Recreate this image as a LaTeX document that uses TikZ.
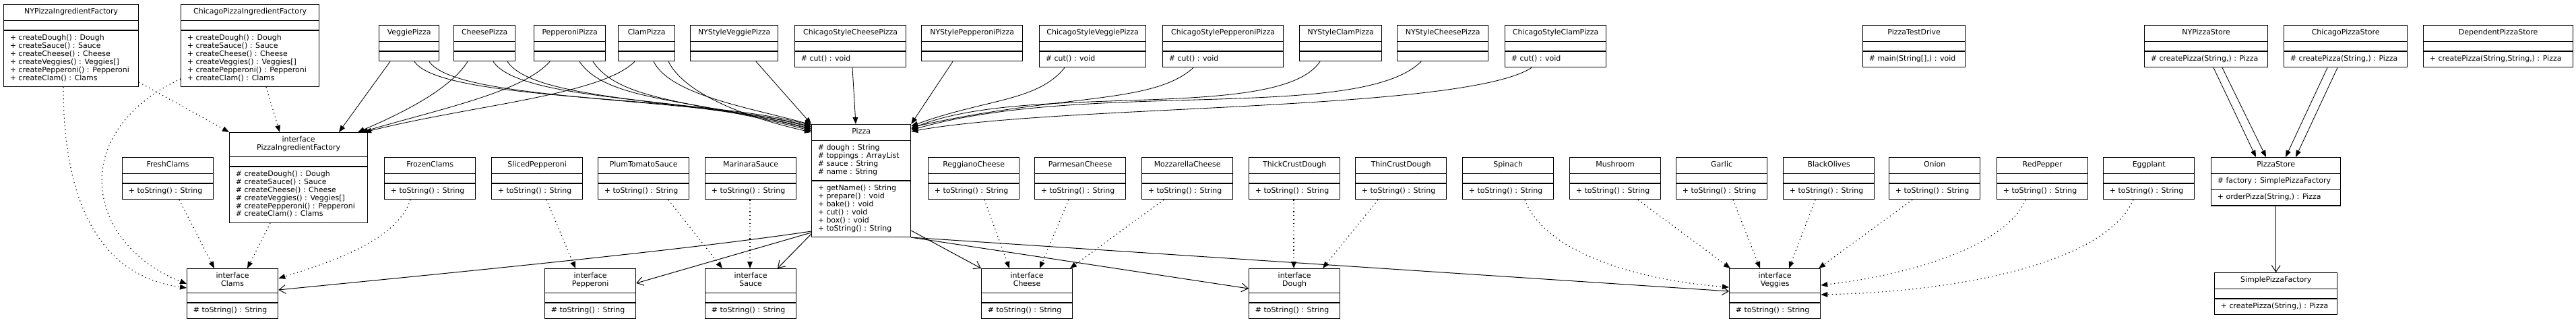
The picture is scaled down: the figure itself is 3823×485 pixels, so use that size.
\documentclass[tikz,border=0pt]{standalone}
\usepackage{fontspec}
\setmainfont{DejaVu Sans}
\usepackage{tikz}
\usetikzlibrary{
  arrows.meta,
  shapes.multipart,
}
\newcommand{\umlfont}{\fontsize{7.8pt}{8.5pt}\selectfont}
\newcommand{\umlhead}[1]{\begin{tabular}{@{}c@{}}#1\end{tabular}}
\newcommand{\umllines}[1]{\begin{tabular}{@{}l@{}}#1\end{tabular}}
\newcommand{\factorymethods}[1]{\umllines{#1 createDough() : Dough\\ #1 createSauce() : Sauce\\
  #1 createCheese() : Cheese\\ #1 createVeggies() : Veggies[]\\
  #1 createPepperoni() : Pepperoni\\ #1 createClam() : Clams}}

\begin{document}
\begin{tikzpicture}[
    x=0.25mm, y=-0.25mm,
    cls/.style={rectangle split, rectangle split parts=3, draw, line width=0.9pt,
      rectangle split part align={center,left,left},
      inner xsep=2.3mm, inner ysep=3.75pt, anchor=north west, font=\umlfont},
    boxw/.style={minimum width=#1*0.25mm},
    gen/.style={-{Triangle[length=2.5mm, width=1.9mm]}, line width=0.6pt},
    dep/.style={gen, line width=0.85pt, dash pattern=on 0.85pt off 3.2pt},
    assoc/.style={-{Straight Barb[length=2.4mm, width=3.2mm]}, line width=0.7pt},
  ]
  \useasboundingbox (0,0) rectangle (3823,485);

  % ingredient factories
  \node[cls, boxw=200] (nyFactory) at (5,6) {\umlhead{NYPizzaIngredientFactory}
    \nodepart{two} \umllines{} \nodepart{three} \factorymethods{+}};
  \node[cls, boxw=205] (chiFactory) at (268,6) {\umlhead{ChicagoPizzaIngredientFactory}
    \nodepart{two} \umllines{} \nodepart{three} \factorymethods{+}};
  \node[cls, boxw=205] (factoryIntf) at (340,196) {\umlhead{interface\\PizzaIngredientFactory}
    \nodepart{two} \umllines{} \nodepart{three} \factorymethods{\#}};

  % pizzas
  \foreach \n/\t/\x/\w/\m in {
      veggiePizza/VeggiePizza/562/89/{},
      cheesePizza/CheesePizza/673/91/{},
      pepperoniPizza/PepperoniPizza/792/106/{},
      clamPizza/ClamPizza/917/84/{},
      nyVeggiePizza/NYStyleVeggiePizza/1024/130/{},
      chiCheesePizza/ChicagoStyleCheesePizza/1179/165/{\# cut() : void},
      nyPepperoniPizza/NYStylePepperoniPizza/1367/150/{},
      chiVeggiePizza/ChicagoStyleVeggiePizza/1542/158/{\# cut() : void},
      chiPepperoniPizza/ChicagoStylePepperoniPizza/1725/179/{\# cut() : void},
      nyClamPizza/NYStyleClamPizza/1928/122/{},
      nyCheesePizza/NYStyleCheesePizza/2073/135/{},
      chiClamPizza/ChicagoStyleClamPizza/2233/150/{\# cut() : void}}
    \node[cls, boxw=\w] (\n) at (\x,37) {\umlhead{\t}
      \nodepart{two} \umllines{} \nodepart{three} \umllines{\m}};

  \node[cls, boxw=147] (pizza) at (1204,184) {\umlhead{Pizza}
    \nodepart{two} \umllines{\# dough : String\\ \# toppings : ArrayList\\ \# sauce : String\\ \# name : String}
    \nodepart{three} \umllines{+ getName() : String\\ + prepare() : void\\ + bake() : void\\
      + cut() : void\\ + box() : void\\ + toString() : String}};

  % stores
  \node[cls, boxw=152] (testDrive) at (2764,37) {\umlhead{PizzaTestDrive}
    \nodepart{two} \umllines{} \nodepart{three} \umllines{\# main(String[],) : void}};
  \node[cls, boxw=183] (nyStore) at (3182,37) {\umlhead{NYPizzaStore}
    \nodepart{two} \umllines{} \nodepart{three} \umllines{\# createPizza(String,) : Pizza}};
  \node[cls, boxw=183] (chiStore) at (3389,37) {\umlhead{ChicagoPizzaStore}
    \nodepart{two} \umllines{} \nodepart{three} \umllines{\# createPizza(String,) : Pizza}};
  \node[cls, boxw=222] (depStore) at (3596,37) {\umlhead{DependentPizzaStore}
    \nodepart{two} \umllines{} \nodepart{three} \umllines{+ createPizza(String,String,) : Pizza}};
  \node[cls, boxw=192] (pizzaStore) at (3281,233) {\umlhead{PizzaStore}
    \nodepart{two} \umllines{\# factory : SimplePizzaFactory}
    \nodepart{three} \umllines{+ orderPizza(String,) : Pizza}};
  \node[cls, boxw=182] (simpleFactory) at (3286,404) {\umlhead{SimplePizzaFactory}
    \nodepart{two} \umllines{} \nodepart{three} \umllines{+ createPizza(String,) : Pizza}};

  % ingredients
  \foreach \n/\t/\x in {
      freshClams/FreshClams/181, frozenClams/FrozenClams/570,
      slicedPepperoni/SlicedPepperoni/729, plumTomatoSauce/PlumTomatoSauce/887,
      marinaraSauce/MarinaraSauce/1046, reggianoCheese/ReggianoCheese/1377,
      parmesanCheese/ParmesanCheese/1535, mozzarellaCheese/MozzarellaCheese/1694,
      thickCrustDough/ThickCrustDough/1853, thinCrustDough/ThinCrustDough/2011,
      spinach/Spinach/2170, mushroom/Mushroom/2329, garlic/Garlic/2487,
      blackOlives/BlackOlives/2646, onion/Onion/2803, redPepper/RedPepper/2963,
      eggplant/Eggplant/3121}
    \node[cls, boxw=135] (\n) at (\x,233) {\umlhead{\t}
      \nodepart{two} \umllines{} \nodepart{three} \umllines{+ toString() : String}};

  \foreach \n/\t/\x in {
      clamsIntf/Clams/277, pepperoniIntf/Pepperoni/808, sauceIntf/Sauce/1046,
      cheeseIntf/Cheese/1456, doughIntf/Dough/1853, veggiesIntf/Veggies/2566}
    \node[cls, boxw=135] (\n) at (\x,398) {\umlhead{interface\\\t}
      \nodepart{two} \umllines{} \nodepart{three} \umllines{\# toString() : String}};

  % pizzas -> factory interface
  \draw[gen] (veggiePizza.south -| 579,0) -- (factoryIntf.north -| 503,0);
  \draw[gen] (cheesePizza.south -| 694,0) .. controls +(-25,40) and +(70,-30) .. (factoryIntf.north -| 531,0);
  \draw[gen] (pepperoniPizza.south -| 816,0) .. controls +(-40,45) and +(120,-35) .. (factoryIntf.north -| 536,0);
  \draw[gen] (clamPizza.south -| 942,0) .. controls +(-50,50) and +(160,-40) .. (factoryIntf.north -| 541,0);

  % pizzas -> Pizza
  \foreach \s/\a/\y in {veggiePizza/615/186, veggiePizza/637/188, cheesePizza/732/189,
      cheesePizza/753/191, pepperoniPizza/860/192, pepperoniPizza/880/194}
    \draw[gen] (\s.south -| \a,0) .. controls +(40,60) and +(-170,-45) .. (pizza.west |- 0,\y);
  \draw[gen] (clamPizza.south -| 970,0) .. controls +(25,50) and +(-90,-25) .. (pizza.west |- 0,185);
  \draw[gen] (clamPizza.south -| 992,0) .. controls +(25,50) and +(-90,-20) .. (pizza.west |- 0,196);
  \draw[gen] (nyVeggiePizza.south -| 1122,0) -- (pizza.north west);
  \draw[gen] (chiCheesePizza.south -| 1265,0) -- (pizza.north -| 1270,0);
  \draw[gen] (nyPepperoniPizza.south -| 1414,0) -- (pizza.north east);
  \draw[gen] (chiVeggiePizza.south -| 1580,0) .. controls +(-40,50) and +(110,-40) .. (pizza.east |- 0,187);
  \draw[gen] (chiPepperoniPizza.south -| 1771,0) .. controls +(-60,55) and +(220,-50) .. (pizza.east |- 0,189);
  \draw[gen] (nyClamPizza.south -| 1959,0) .. controls +(-60,90) and +(170,-70) .. (pizza.east |- 0,191);
  \draw[gen] (nyCheesePizza.south -| 2109,0) .. controls +(-90,90) and +(260,-75) .. (pizza.east |- 0,193);
  \draw[gen] (chiClamPizza.south -| 2273,0) .. controls +(-100,65) and +(220,-40) .. (pizza.east |- 0,195);

  % factories -> interfaces
  \draw[dep] (nyFactory.east |- 0,122) -- (factoryIntf.north west);
  \draw[dep] (chiFactory.south -| 395,0) -- (factoryIntf.north -| 415,0);
  \draw[dep] (nyFactory.south -| 94,0) .. controls +(0,200) and +(-110,-15) .. (clamsIntf.west |- 0,427);
  \draw[dep] (chiFactory.west |- 0,117) .. controls +(-170,80) and +(-150,-60) .. (clamsIntf.west |- 0,421);

  % ingredients -> interfaces
  \foreach \s/\t/\a/\b in {freshClams/clamsIntf/266/318, factoryIntf/clamsIntf/401/367,
      slicedPepperoni/pepperoniIntf/811/854, plumTomatoSauce/sauceIntf/992/1072,
      marinaraSauce/sauceIntf/1113/1113, reggianoCheese/cheeseIntf/1461/1498,
      parmesanCheese/cheeseIntf/1586/1543, mozzarellaCheese/cheeseIntf/1727/1588,
      thickCrustDough/doughIntf/1920/1920, thinCrustDough/doughIntf/2045/1963,
      mushroom/veggiesIntf/2431/2568, garlic/veggiesIntf/2572/2612,
      blackOlives/veggiesIntf/2694/2655, onion/veggiesIntf/2838/2699}
    \draw[dep] (\s.south -| \a,0) -- (\t.north -| \b,0);
  \draw[dep] (frozenClams.south -| 609,0) .. controls +(-20,60) and +(80,-25) .. (clamsIntf.east |- 0,413);
  \draw[dep] (spinach.south -| 2263,0) .. controls +(30,80) and +(-130,-10) .. (veggiesIntf.west |- 0,426);
  \draw[dep] (redPepper.south -| 3006,0) .. controls +(-30,70) and +(130,-15) .. (veggiesIntf.east |- 0,423);
  \draw[dep] (eggplant.south -| 3166,0) .. controls +(-40,90) and +(220,-5) .. (veggiesIntf.east |- 0,437);

  % Pizza -> ingredient interfaces
  \draw[assoc] (pizza.west |- 0,343) .. controls +(-200,30) and +(200,-20) .. (clamsIntf.east |- 0,430);
  \draw[assoc] (pizza.west |- 0,345) -- (pepperoniIntf.east |- 0,420);
  \draw[assoc] (pizza.west |- 0,347) -- (sauceIntf.north -| 1154,0);
  \draw[assoc] (pizza.east |- 0,342) -- (cheeseIntf.north west);
  \draw[assoc] (pizza.south east) -- (doughIntf.west |- 0,428);
  \draw[assoc] (pizza.south east) -- (veggiesIntf.west |- 0,432);

  % stores
  \draw[gen] (nyStore.south -| 3285,0) -- (pizzaStore.north -| 3348,0);
  \draw[gen] (nyStore.south -| 3298,0) -- (pizzaStore.north -| 3363,0);
  \draw[gen] (chiStore.south -| 3454,0) -- (pizzaStore.north -| 3392,0);
  \draw[gen] (chiStore.south -| 3469,0) -- (pizzaStore.north -| 3407,0);
  \draw[assoc] (pizzaStore) -- (simpleFactory);
\end{tikzpicture}
\end{document}
